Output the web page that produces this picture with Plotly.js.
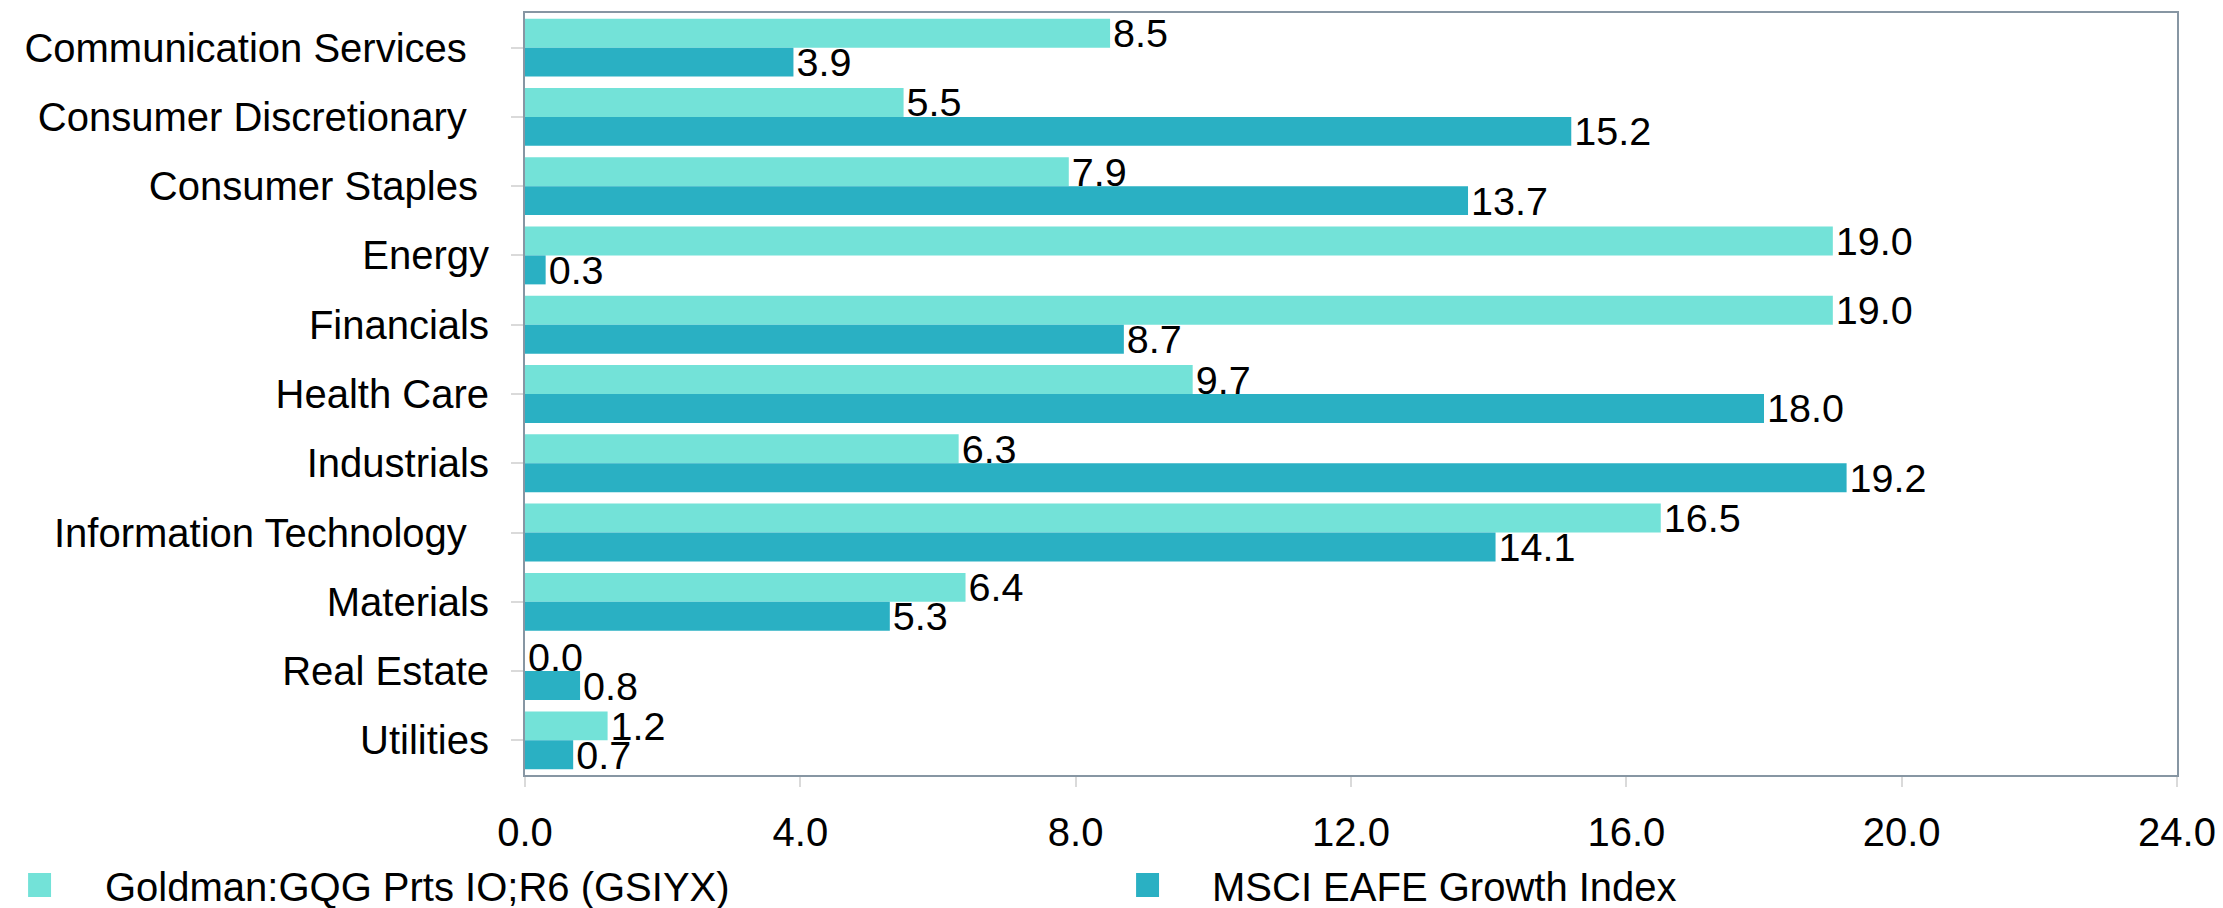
<!DOCTYPE html>
<html>
<head>
<meta charset="utf-8">
<script src="https://cdn.plot.ly/plotly-3.0.1.min.js"></script>
<style>html,body{margin:0;padding:0;background:#fff;}#chart{width:2223px;height:908px;}</style>
</head>
<body>
<div id="chart"></div>
<script>
// Categories (trailing no-break spaces mimic the reference label alignment)
var categories = [
  "Communication Services\u00A0\u00A0",
  "Consumer Discretionary\u00A0\u00A0",
  "Consumer Staples\u00A0",
  "Energy",
  "Financials",
  "Health Care",
  "Industrials",
  "Information Technology\u00A0\u00A0",
  "Materials",
  "Real Estate",
  "Utilities"
];
var seriesNames = ["Goldman:GQG Prts IO;R6 (GSIYX)", "MSCI EAFE Growth Index"];
var fundValues  = [8.5, 5.5, 7.9, 19.0, 19.0, 9.7, 6.3, 16.5, 6.4, 0.0, 1.2];
var indexValues = [3.9, 15.2, 13.7, 0.3, 8.7, 18.0, 19.2, 14.1, 5.3, 0.8, 0.7];
var xTickValues = [0, 4, 8, 12, 16, 20, 24];

var colors = ["#73E2D8", "#2AB0C3"];
var FONT = "Liberation Sans, Arial, Helvetica, sans-serif";

function barTrace(name, vals, color) {
  return {
    type: "bar",
    orientation: "h",
    name: name,
    y: categories,
    x: vals,
    marker: {color: color, line: {width: 0}},
    text: vals.map(function(v){ return v.toFixed(1); }),
    texttemplate: "%{text}",
    textposition: "outside",
    constraintext: "none",
    cliponaxis: false,
    textfont: {family: FONT, size: 39.5, color: "#000"},
    hoverinfo: "skip",
    showlegend: false
  };
}

var data = [
  barTrace(seriesNames[0], fundValues, colors[0]),
  barTrace(seriesNames[1], indexValues, colors[1])
];

// Manual legend (paper coordinates)
var legendX = [[-0.3008, -0.2869, -0.2554], [0.3699, 0.3838, 0.4147]];
var shapes = [], annotations = [];
for (var i = 0; i < 2; i++) {
  shapes.push({type: "rect", xref: "paper", yref: "paper",
    x0: legendX[i][0], x1: legendX[i][1], y0: -0.1601, y1: -0.1286,
    fillcolor: colors[i], line: {width: 0}});
  annotations.push({xref: "paper", yref: "paper", x: legendX[i][2], y: -0.1470,
    xanchor: "left", yanchor: "middle", showarrow: false, text: seriesNames[i],
    font: {family: FONT, size: 40, color: "#000"}});
}

var layout = {
  width: 2223, height: 908,
  margin: {l: 525, r: 46, t: 13, b: 133, pad: 0},
  paper_bgcolor: "#fff", plot_bgcolor: "#fff",
  font: {family: FONT, size: 40, color: "#000"},
  barmode: "group",
  bargap: 0.165,
  bargroupgap: 0,
  showlegend: false,
  xaxis: {
    range: [0, 24],
    tickvals: xTickValues,
    ticktext: xTickValues.map(function(v){ return v.toFixed(1); }),
    showgrid: false, zeroline: false,
    showline: true, mirror: true, linecolor: "#8796A3", linewidth: 2,
    ticks: "outside", ticklen: 10, tickwidth: 2, tickcolor: "#DADADA",
    ticklabelstandoff: 11,
    tickfont: {family: FONT, size: 40, color: "#000"}
  },
  yaxis: {
    autorange: "reversed",
    type: "category",
    showgrid: false, zeroline: false,
    showline: true, mirror: true, linecolor: "#8796A3", linewidth: 2,
    ticks: "outside", ticklen: 12, tickwidth: 2, tickcolor: "#DADADA",
    ticklabelstandoff: 14,
    tickfont: {family: FONT, size: 40, color: "#000"}
  },
  shapes: shapes,
  annotations: annotations
};

Plotly.newPlot("chart", data, layout, {displayModeBar: false, staticPlot: true});
</script>
</body>
</html>
